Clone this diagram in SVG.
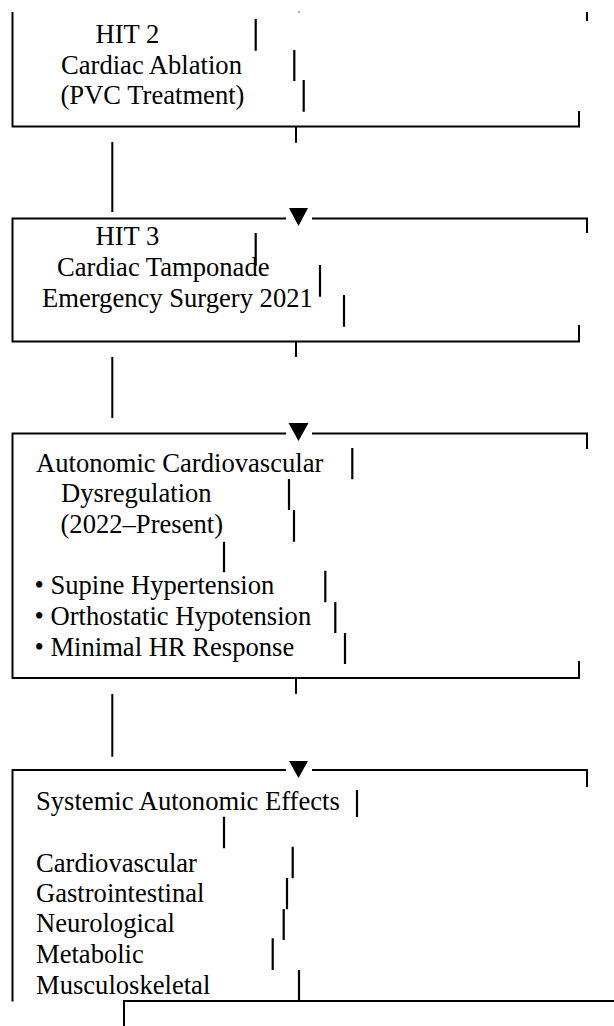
<svg xmlns="http://www.w3.org/2000/svg" width="614" height="1026" viewBox="0 0 614 1026" font-family="'Liberation Serif', 'Times New Roman', Times, serif">
<style>
text{font-family:"Liberation Serif","Times New Roman",Times,serif;font-size:26.6px;fill:#000}
.edge{stroke:#000;stroke-width:2;fill:none;stroke-linecap:butt}
.bar{stroke:#000;stroke-width:2.2;fill:none}
.tri{fill:#000}
</style>
<rect width="614" height="1026" fill="#fff"/>
<g id="node-hit2">
<path class="edge" d="M12.5 12 V126.5 H579 V111"/>
<path class="edge" d="M587 12 V21"/>
<rect x="298.5" y="11.5" width="1" height="1.2" fill="#000"/>
<text x="95.5" y="43">HIT 2</text>
<text x="61" y="73.5">Cardiac Ablation</text>
<text x="60.5" y="104">(PVC Treatment)</text>
<path class="bar" d="M255.7 19 V50.7 M294.3 50 V81 M303.7 80 V111.7"/>
</g>
<g id="node-hit3">
<path class="edge" d="M286 218.5 H12.5 V341.5 H579 V325"/>
<path class="edge" d="M312 218.5 H587 V233"/>
<text x="95.5" y="245">HIT 3</text>
<text x="57" y="276">Cardiac Tamponade</text>
<text x="42" y="307">Emergency Surgery 2021</text>
<path class="bar" d="M255.7 233 V265.7 M320 265 V296.7 M344 295 V326.7"/>
</g>
<g id="node-dysregulation">
<path class="edge" d="M286 433.5 H12.5 V678 H579 V661"/>
<path class="edge" d="M312 433.5 H587 V449"/>
<text x="36" y="471.5">Autonomic Cardiovascular</text>
<text x="61" y="501.5">Dysregulation</text>
<text x="60.5" y="532.5">(2022–Present)</text>
<text x="34.5" y="594">• Supine Hypertension</text>
<text x="34.5" y="625">• Orthostatic Hypotension</text>
<text x="34.5" y="656">• Minimal HR Response</text>
<path class="bar" d="M352.3 448 V479.3 M289 479 V510 M294 510 V541.7 M224 541.7 V572.3 M325.3 570.7 V602.3 M335.3 602 V633 M345 633 V664"/>
</g>
<g id="node-systemic">
<path class="edge" d="M286 770 H12.5 V1001.5"/>
<path class="edge" d="M312 770 H587 V787"/>
<text x="36" y="810">Systemic Autonomic Effects</text>
<text x="36" y="871.5">Cardiovascular</text>
<text x="36" y="901.5">Gastrointestinal</text>
<text x="36" y="932">Neurological</text>
<text x="36" y="963">Metabolic</text>
<text x="36" y="994">Musculoskeletal</text>
<path class="bar" d="M357 790 V817 M224 816.7 V848.3 M292.7 846.7 V878.3 M287 878 V909.3 M283.7 909 V940 M272.7 938.3 V970 M299 970 V1000.7"/>
</g>
<g id="connectors">
<path class="edge" d="M296 127 V142.7 M112.3 142 V212"/>
<polygon class="tri" points="289,208 308,208 298.5,226"/>
<path class="edge" d="M296 342 V357 M112.3 357 V418"/>
<polygon class="tri" points="288.5,423 308.5,423 298.5,441"/>
<path class="edge" d="M296 678 V694 M112.3 694 V756.7"/>
<polygon class="tri" points="289,761 308,761 298.5,778"/>
<path class="edge" d="M124 1026 V1001 H614"/>
</g>
</svg>
